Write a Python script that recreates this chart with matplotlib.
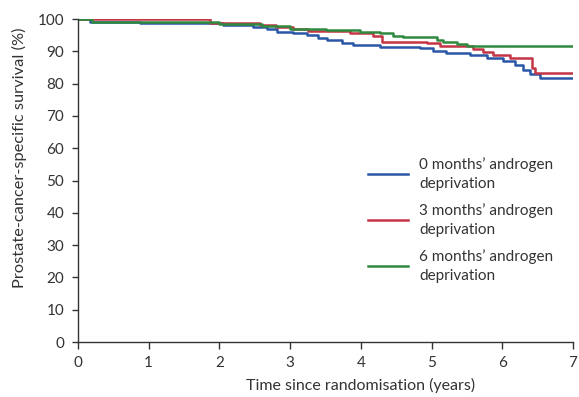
import matplotlib
matplotlib.use("Agg")
import matplotlib.pyplot as plt

plt.rcParams['font.family'] = ['Lato', 'DejaVu Sans']

# Kaplan-Meier step data: event times (years) and survival (%)
t_0m = [0, 0.17, 0.88, 2.05, 2.48, 2.67, 2.81, 3.04, 3.24, 3.39, 3.52, 3.73, 3.89,
        4.27, 4.84, 5.02, 5.21, 5.54, 5.78, 6.01, 6.18, 6.29, 6.39, 6.53, 7.0]
s_0m = [100, 99.1, 98.7, 98.2, 97.6, 96.8, 95.9, 95.6, 95.0, 94.1, 93.5, 92.5, 91.9,
        91.4, 90.9, 90.2, 89.4, 88.9, 87.8, 87.0, 85.8, 84.2, 83.0, 81.9, 81.9]

t_3m = [0, 1.87, 2.57, 2.80, 3.04, 3.25, 3.85, 4.17, 4.30, 4.93, 5.12, 5.59, 5.73,
        5.87, 6.11, 6.42, 6.46, 7.0]
s_3m = [100, 98.9, 98.2, 97.6, 96.9, 96.2, 95.6, 94.7, 93.0, 92.5, 91.6, 90.6, 89.9,
        88.9, 87.9, 84.8, 83.2, 83.2]

t_6m = [0, 0.2, 2.0, 2.6, 3.0, 3.5, 3.99, 4.27, 4.46, 4.60, 5.07, 5.16, 5.36, 5.50, 7.0]
s_6m = [100, 99.0, 98.5, 97.8, 96.9, 96.6, 95.9, 95.6, 94.8, 94.3, 93.5, 92.9, 92.4,
        91.6, 91.6]

labels = ["0 months\u2019 androgen\ndeprivation",
          "3 months\u2019 androgen\ndeprivation",
          "6 months\u2019 androgen\ndeprivation"]
colors = ["#2a56a8", "#c43545", "#2f8a3f"]

x_ticks = list(range(0, 8))
y_ticks = list(range(0, 101, 10))

ink = "#333333"

fig = plt.figure(figsize=(5.79, 3.97), dpi=100)
ax = fig.add_axes([0.1347, 0.1385, 0.855, 0.8135])

for t, s, lab, c in zip([t_0m, t_3m, t_6m], [s_0m, s_3m, s_6m], labels, colors):
    ax.step(t, s, where="post", color=c, lw=1.8, label=lab)

ax.set_xlim(0, 7)
ax.set_ylim(0, 100)
ax.set_xticks(x_ticks)
ax.set_yticks(y_ticks)
for side in ("top", "right"):
    ax.spines[side].set_visible(False)
for side in ("left", "bottom"):
    ax.spines[side].set_color(ink)
    ax.spines[side].set_linewidth(1.0)
ax.tick_params(direction="out", width=1.0, color=ink, labelsize=11, labelcolor=ink)
ax.tick_params(axis="x", length=5, pad=5)
ax.tick_params(axis="y", length=4, pad=6)
ax.set_xlabel("Time since randomisation (years)", fontsize=11.5, color=ink)
ax.xaxis.set_label_coords(0.57, -0.112)
ax.set_ylabel("Prostate-cancer-specific survival (%)", fontsize=11.8, color=ink)
ax.yaxis.set_label_coords(-0.102, 0.57)

leg = ax.legend(loc="upper left", bbox_to_anchor=(0.558, 0.615), frameon=False,
                handlelength=2.6, handletextpad=0.75, labelspacing=0.8, fontsize=11)
for txt in leg.get_texts():
    txt.set_color(ink)
    txt.set_linespacing(1.45)

fig.savefig("out.png", dpi=100)
